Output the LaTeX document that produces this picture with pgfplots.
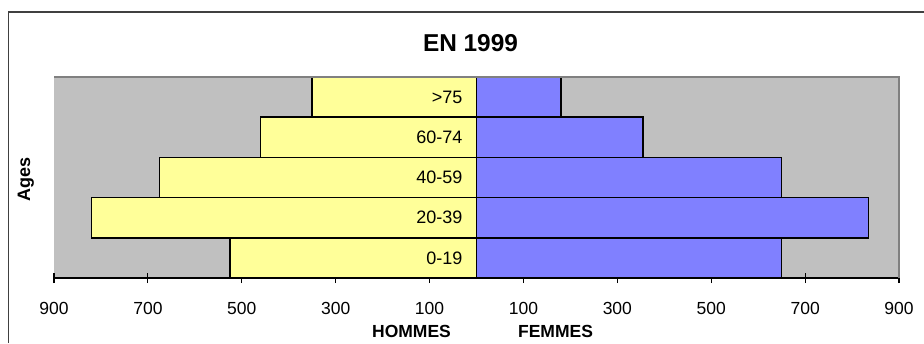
\documentclass[border=0pt]{standalone}
\usepackage{fontspec}
\setmainfont{Liberation Sans}
\usepackage{pgfplots}
\pgfplotsset{compat=1.18}

\definecolor{menfill}{HTML}{FFFF99}
\definecolor{womenfill}{HTML}{8080FF}
\definecolor{plotbg}{HTML}{C0C0C0}
\definecolor{areaedge}{HTML}{808080}
\definecolor{frameline}{HTML}{404040}

\begin{document}
\begin{tikzpicture}[x=1pt,y=1pt]
\useasboundingbox (0,0) rectangle (462,171.5);
% chart frame
\draw[line width=0.75pt, frameline] (4.35,0) -- (4.35,165.5) -- (462,165.5);

\begin{axis}[
  at={(27pt,32.5pt)}, anchor=south west,
  scale only axis, width=422.5pt, height=100.5pt,
  xmin=-900, xmax=900, ymin=-0.5, ymax=4.5,
  axis background/.style={fill=plotbg},
  axis x line*=bottom, axis y line=none,
  x axis line style={black, line width=0.75pt, -},
  xtick={-900,-700,-500,-300,-100,100,300,500,700,900},
  xticklabels={900,700,500,300,100,100,300,500,700,900},
  xtick style={black, line width=0.6pt},
  major tick length=5pt, tick align=center,
  xticklabel style={font=\fontsize{8.75}{10}\selectfont, anchor=base, yshift=-15.5pt},
  ytick=\empty,
  clip=false,
]
  % men (left) and women (right), age groups 0-19 ... >75 from bottom to top
  \addplot[xbar, bar width=1, bar shift=0pt, fill=menfill, draw=black, line width=0.75pt]
    coordinates {(-525,0) (-820,1) (-675,2) (-460,3) (-350,4)};
  \addplot[xbar, bar width=1, bar shift=0pt, fill=womenfill, draw=black, line width=0.75pt]
    coordinates {(650,0) (835,1) (650,2) (355,3) (180,4)};

  \draw[areaedge, line width=0.75pt] (rel axis cs:0,1) -- (rel axis cs:1,1) -- (rel axis cs:1,0);

  \begin{scope}[every node/.style={anchor=east, inner sep=0pt, font=\fontsize{9}{10}\selectfont}]
    \node at (axis cs:-29,0) {0-19};
    \node at (axis cs:-29,1) {20-39};
    \node at (axis cs:-29,2) {40-59};
    \node at (axis cs:-29,3) {60-74};
    \node at (axis cs:-29,4) {>75};
  \end{scope}
\end{axis}

\node[anchor=base, font=\bfseries\fontsize{12.2}{14}\selectfont] at (235.25,145.5) {EN 1999};
\node[anchor=base, font=\bfseries\fontsize{8.75}{10}\selectfont] at (205.75,3) {HOMMES};
\node[anchor=base, font=\bfseries\fontsize{8.75}{10}\selectfont] at (277.75,3) {FEMMES};
\node[rotate=90, font=\bfseries\fontsize{9}{10}\selectfont] at (12.9,81.75) {Ages};
\end{tikzpicture}
\end{document}
